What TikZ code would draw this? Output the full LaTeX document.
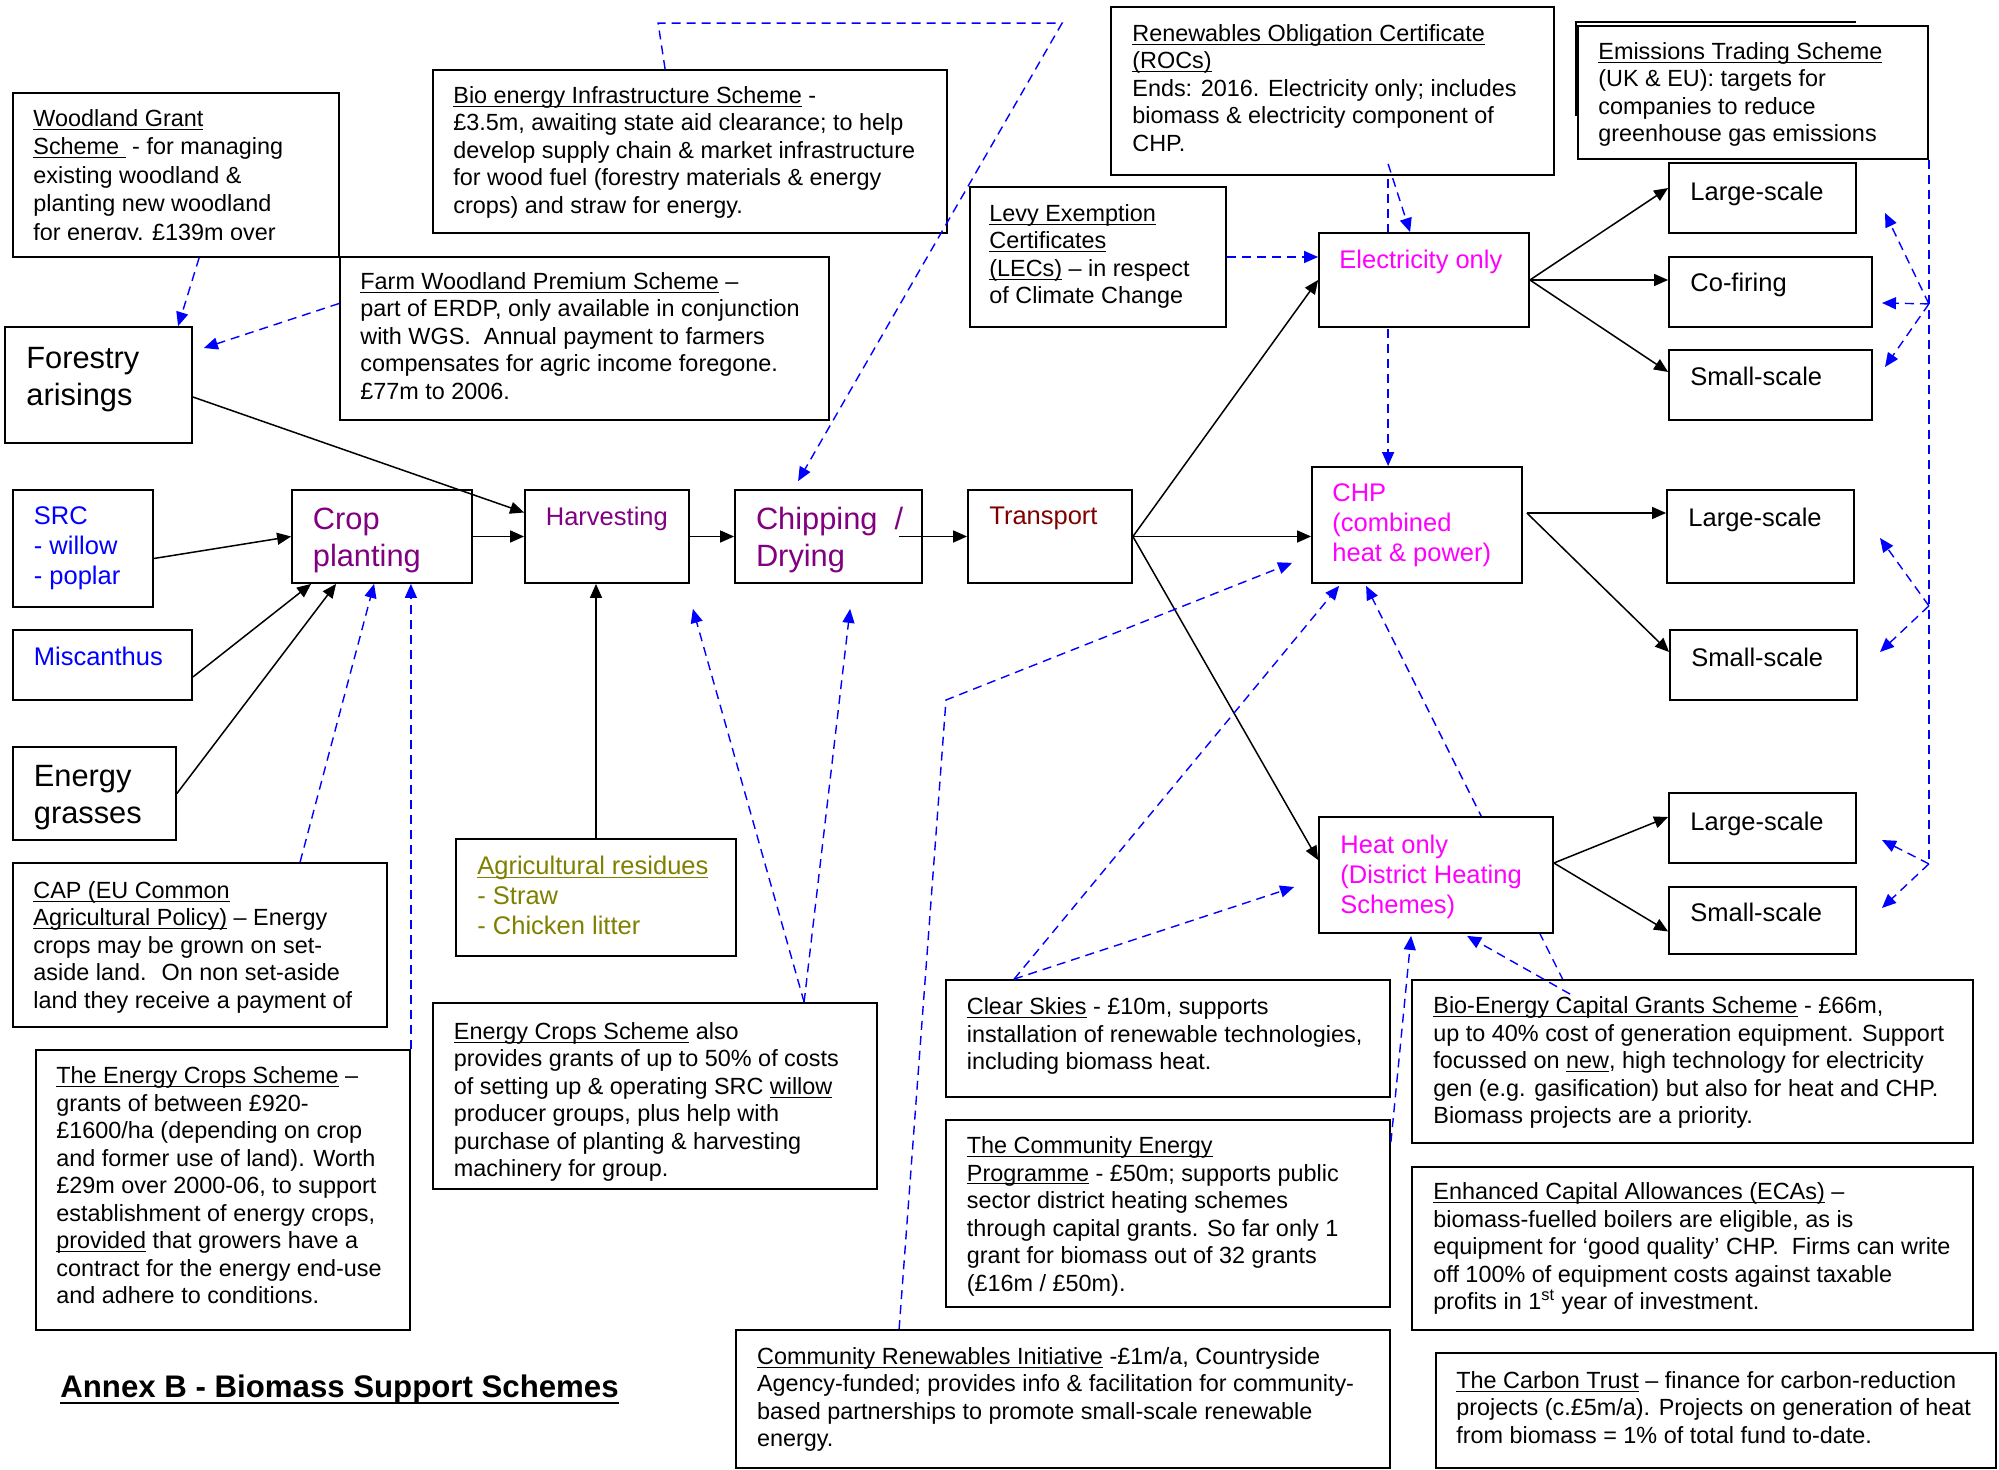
\documentclass[tikz,border=0pt]{standalone}
\usepackage{fontspec}
\setmainfont{Liberation Sans}
\usetikzlibrary{arrows.meta,calc,fit}
\pgfdeclarelayer{background}
\pgfsetlayers{background,main}
\definecolor{plum}{RGB}{128,0,128}
\definecolor{rust}{RGB}{128,0,0}
\definecolor{olivine}{RGB}{128,128,0}
\definecolor{fuchsia}{RGB}{255,0,255}
\definecolor{pureblue}{RGB}{0,0,255}
\newcommand{\uln}[1]{\underline{\vphantom{A}\smash{#1}}}
\newcommand{\panelbox}[5]{\node[frame, fit={(#2,#3) (#4,#5)}] (#1) {};}
\tikzset{
  frame/.style={draw, line width=0.9pt, fill=white, inner sep=0pt},
  note/.style={anchor=north west, inner sep=0pt, align=left, font=\fontsize{11.7}{13.75}\selectfont},
  mid/.style={anchor=north west, inner sep=0pt, align=left, font=\fontsize{12.75}{15}\selectfont},
  big/.style={anchor=north west, inner sep=0pt, align=left, font=\fontsize{15.4}{18.5}\selectfont},
  flow/.style={line width=0.75pt, -{Triangle[length=7pt,width=6pt]}},
  depline/.style={pureblue, line width=0.7pt, dash pattern=on 4.5pt off 3pt},
  dep/.style={depline, -{Triangle[length=7pt,width=6pt]}}
}
\begin{document}
\begin{tikzpicture}[x=0.5pt, y=-0.5pt]
\useasboundingbox (0,0) rectangle (1999,1470);

% scheme boxes
\panelbox{wgs}{13}{93}{339}{257}
\panelbox{fwps}{340}{257}{829}{420}
\panelbox{bei}{433}{70}{947}{233}
\panelbox{rocs}{1111}{7}{1554}{175}
\panelbox{ets}{1578}{26}{1928}{159}
\draw[line width=0.9pt] ($(ets.north west)+(-1,91)$) -- ($(ets.north west)+(-1,-3)$) -- ($(ets.north west)+(279,-3)$);
\panelbox{lec}{970}{187}{1226}{327}
\panelbox{agri}{456}{839}{736}{956}
\panelbox{cap}{13}{863}{387}{1027}
\panelbox{ecs}{36}{1050}{410}{1330}
\panelbox{ecsa}{433}{1003}{877}{1189}
\panelbox{cs}{946}{980}{1390}{1097}
\panelbox{cep}{946}{1120}{1390}{1307}
\panelbox{cri}{736}{1330}{1390}{1468}
\panelbox{becgs}{1412}{980}{1973}{1143}
\panelbox{eca}{1412}{1167}{1973}{1330}
\panelbox{ct}{1436}{1353}{1996}{1468}

% chain boxes
\foreach \n/\a/\b/\c/\d in {forest/5/327/192/443, src/13/490/153/607, misc/13/630/192/700,
  grass/13/747/176/840, crop/292/490/472/583, harv/525/490/689/583, chip/735/490/922/583,
  trans/968/490/1132/583, elec/1319/233/1529/327, chp/1312/467/1522/583, heat/1319/817/1553/933,
  elL/1669/163/1856/233, cofire/1669/257/1872/327, elS/1669/350/1872/420,
  chpL/1667/490/1854/583, chpS/1670/630/1857/700, heatL/1669/793/1856/863, heatS/1669/887/1856/954}
  {\panelbox{\n}{\a}{\b}{\c}{\d}}

% texts
\begin{scope}
\clip (13,93) rectangle (339,240);
\node[note, font=\fontsize{11.7}{14.2}\selectfont] (wgs-t) at (33,110) {\uln{Woodland Grant}\\ \uln{Scheme\ } - for managing\\ existing woodland \&\\ planting new woodland\\ for energy. £139m over};
\end{scope}
\node[note] (fwps-t) at (360,273) {\uln{Farm Woodland Premium Scheme} –\\ part of ERDP, only available in conjunction\\ with WGS.~ Annual payment to farmers\\ compensates for agric income foregone.\\ £77m to 2006.};
\node[note] (bei-t) at (453,87) {\uln{Bio energy Infrastructure Scheme} -\\ £3.5m, awaiting state aid clearance; to help\\ develop supply chain \& market infrastructure\\ for wood fuel (forestry materials \& energy\\ crops) and straw for energy.};
\node[note] (rocs-t) at (1132,25) {\uln{Renewables Obligation Certificate}\\ \uln{(ROCs)}\\ Ends: 2016. Electricity only; includes\\ biomass \& electricity component of\\ CHP.};
\node[note] (ets-t) at (1598,43) {\uln{Emissions Trading Scheme}\\ (UK \& EU): targets for\\ companies to reduce\\ greenhouse gas emissions};
\node[note] (lec-t) at (989,205) {\uln{Levy Exemption}\\ \uln{Certificates}\\ \uln{(LECs)} – in respect\\ of Climate Change};
\node[mid, text=olivine] (agri-t) at (477,857) {\uln{Agricultural residues}\\ - Straw\\ - Chicken litter};
\node[note] (cap-t) at (33,882) {\uln{CAP (EU Common}\\ \uln{Agricultural Policy)} – Energy\\ crops may be grown on set-\\ aside land.~ On non set-aside\\ land they receive a payment of};
\node[note] (ecs-t) at (56,1067) {\uln{The Energy Crops Scheme} –\\ grants of between £920-\\ £1600/ha (depending on crop\\ and former use of land). Worth\\ £29m over 2000-06, to support\\ establishment of energy crops,\\ \uln{provided} that growers have a\\ contract for the energy end-use\\ and adhere to conditions.};
\node[note] (ecsa-t) at (453.5,1022) {\uln{Energy Crops Scheme} also\\ provides grants of up to 50\% of costs\\ of setting up \& operating SRC \uln{willow}\\ producer groups, plus help with\\ purchase of planting \& harvesting\\ machinery for group.};
\node[note] (cs-t) at (966.5,998) {\uln{Clear Skies} - £10m, supports\\ installation of renewable technologies,\\ including biomass heat.};
\node[note] (cep-t) at (966.5,1137) {\uln{The Community Energy}\\ \uln{Programme} - £50m; supports public\\ sector district heating schemes\\ through capital grants. So far only 1\\ grant for biomass out of 32 grants\\ (£16m / £50m).};
\node[note] (cri-t) at (756.7,1347) {\uln{Community Renewables Initiative} -£1m/a, Countryside\\ Agency-funded; provides info \& facilitation for community-\\ based partnerships to promote small-scale renewable\\ energy.};
\node[note] (becgs-t) at (1433,997) {\uln{Bio-Energy Capital Grants Scheme} - £66m,\\ up to 40\% cost of generation equipment. Support\\ focussed on \uln{new}, high technology for electricity\\ gen (e.g. gasification) but also for heat and CHP.\\ Biomass projects are a priority.};
\node[note] (eca-t) at (1433,1183) {\uln{Enhanced Capital Allowances (ECAs)} –\\ biomass-fuelled boilers are eligible, as is\\ equipment for ‘good quality’ CHP.~ Firms can write\\ off 100\% of equipment costs against taxable\\ profits in 1\textsuperscript{st} year of investment.};
\node[note] (ct-t) at (1456,1371) {\uln{The Carbon Trust} – finance for carbon-reduction\\ projects (c.£5m/a). Projects on generation of heat\\ from biomass = 1\% of total fund to-date.};

\node[big] (forest-t) at (26,347) {Forestry\\ arisings};
\node[mid, text=pureblue] (src-t) at (33.5,506) {SRC\\ - willow\\ - poplar};
\node[mid, text=pureblue] (misc-t) at (33.5,647) {Miscanthus};
\node[big] (grass-t) at (33.5,765) {Energy\\ grasses};
\node[big, text=plum] (crop-t) at (312.5,508) {Crop\\ planting};
\node[mid, text=plum] (harv-t) at (545.5,507) {Harvesting};
\node[big, text=plum] (chip-t) at (755.6,507) {Chipping~~/\\ Drying};
\node[mid, text=rust] (trans-t) at (989,507) {Transport};
\node[mid, text=fuchsia] (elec-t) at (1339,250) {Electricity only};
\node[mid, text=fuchsia] (chp-t) at (1332,483) {CHP\\ (combined\\ heat \& power)};
\node[mid, text=fuchsia] (heat-t) at (1340,835) {Heat only\\ (District Heating\\ Schemes)};
\foreach \n/\x/\y/\t in {elL/1690/182/Large-scale, cofire/1690/273/Co-firing, elS/1690/367/Small-scale,
  chpL/1688/508/Large-scale, chpS/1691/648/Small-scale, heatL/1690/812/Large-scale, heatS/1690/903/Small-scale}
  {\node[mid] (\n-t) at (\x,\y) {\t};}

\node[anchor=base west, inner sep=0pt, font=\bfseries\fontsize{15.6}{18}\selectfont] (title) at (60,1397) {Annex B - Biomass Support Schemes};
\draw[line width=1.4pt] ($(title.base west)+(0,6)$) -- ($(title.base east)+(0,6)$);

% supply chain
\draw[flow] ($(forest.east)+(0,12)$) -- ($(harv.west)+(0,-24)$);
\draw[flow] ($(src.east)+(0,10)$) -- (crop.west);
\draw[flow] ($(misc.east)+(0,12)$) -- ($(crop.south west)+(20,0)$);
\draw[flow] (grass.east) -- ($(crop.south west)+(45,0)$);
\draw[flow] (crop.east) -- (harv.west);
\draw[flow] (harv.east) -- (chip.west);
\draw[flow] ($(chip.east)+(-24,0)$) -- (trans.west);
\draw[flow] (agri.north) -- (agri.north |- harv.south);
\draw[flow] (trans.east) -- (elec.west);
\draw[flow] (trans.east) -- (trans.east -| chp.west);
\draw[flow] (trans.east) -- ($(heat.west)+(0,-15)$);
\draw[flow] (elec.east) -- ($(elL.west)+(0,-10)$);
\draw[flow] (elec.east) -- (elec.east -| cofire.west);
\draw[flow] (elec.east) -- ($(elS.west)+(0,-13)$);
\coordinate (chpo) at ($(chp.east)+(4,-12)$);
\draw[flow] (chpo) -- (chpo -| chpL.west);
\draw[flow] (chpo) -- ($(chpS.west)+(0,-13)$);
\draw[flow] ($(heat.east)+(0,-12)$) -- ($(heatL.west)+(0,-11)$);
\draw[flow] ($(heat.east)+(0,-12)$) -- ($(heatS.west)+(0,11)$);

% support schemes
\draw[dep] ($(wgs.south west)+(187,0)$) -- ($(forest.north west)+(174,0)$);
\draw[dep] ($(fwps.west)+(0,-35)$) -- ($(forest.east)+(11,-37)$);
\draw[dep] ($(bei.north west)+(233,0)$) -- ($(bei.north west)+(226,-46)$) -- ($(bei.north west)+(630,-46)$) -- ($(chip.north west)+(64,-8)$);
\draw[dep] ($(cap.north west)+(288,0)$) -- ($(crop.south west)+(83,0)$);
\draw[dep] (ecs.north east) -- (ecs.north east |- crop.south);
\coordinate (ecsaP) at ($(ecsa.north west)+(372,0)$);
\draw[dep] (ecsaP) -- ($(harv.south east)+(3,25)$);
\draw[dep] (ecsaP) -- ($(chip.south west)+(116,25)$);
\draw[dep] (lec.east) -- (lec.east -| elec.west);
\coordinate (rocsP) at ($(rocs.south west)+(278,-12)$);
\draw[dep] (rocsP) -- ($(elec.north west)+(92,0)$);
\draw[dep] ($(cri.north west)+(164,0)$) -- (946,700) -- ($(chp.south west)+(-19,-21)$);
\coordinate (csP) at ($(cs.north west)+(69,0)$);
\draw[dep] (csP) -- ($(chp.south west)+(28,2)$);
\draw[dep] (csP) -- ($(heat.west)+(-24,12)$);
\draw[dep] ($(cep.north east)+(0,23)$) -- ($(heat.south west)+(93,2)$);
\coordinate (becP) at ($(becgs.north west)+(159,15)$);
\draw[dep] (becP) -- ($(heat.south west)+(149,2)$);
\begin{pgfonlayer}{background}
\draw[dep] (rocsP) -- (rocsP |- chp.north);
\draw[dep] (becP) -- ($(chp.south west)+(55,2)$);
\end{pgfonlayer}

% emissions trading
\path (ets.south east) ++(0,144) coordinate (b1) ++(0,302) coordinate (b2) ++(0,258) coordinate (b3);
\draw[depline] (ets.south east) -- (b3);
\foreach \b/\tx/\ty [count=\i] in {b1/1885/213, b1/1882/303, b1/1885/367, b2/1880/538, b2/1880/652, b3/1882/840, b3/1882/908}{
  \coordinate (tip\i) at (\tx,\ty);
  \draw[dep] (\b) -- (tip\i);
}
\end{tikzpicture}
\end{document}
